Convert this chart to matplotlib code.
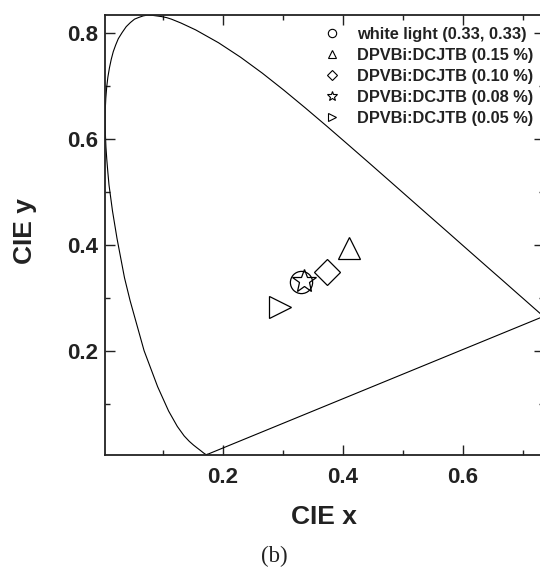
import matplotlib
matplotlib.use("Agg")
import matplotlib.pyplot as plt
from matplotlib.lines import Line2D

plt.rcParams['font.family'] = ['Liberation Sans', 'DejaVu Sans']

# CIE 1931 spectral locus chromaticity coordinates (380-700 nm)
locus_x = [0.1741, 0.1740, 0.1738, 0.1736, 0.1733, 0.1730, 0.1726, 0.1721, 0.1714, 0.1703,
           0.1689, 0.1669, 0.1644, 0.1611, 0.1566, 0.1510, 0.1440, 0.1355, 0.1241, 0.1096,
           0.0913, 0.0687, 0.0454, 0.0360, 0.0235, 0.0160, 0.0102, 0.0082, 0.0065, 0.0051,
           0.0042, 0.0037, 0.0039, 0.0049, 0.0064, 0.0083, 0.0109, 0.0139, 0.0173, 0.0214,
           0.0257, 0.0321, 0.0389, 0.0459, 0.0528, 0.0601, 0.0672, 0.0743, 0.0822, 0.0902,
           0.0983, 0.1064, 0.1142, 0.1301, 0.1547, 0.1929, 0.2296, 0.2658, 0.3016, 0.3373,
           0.3731, 0.4087, 0.4441, 0.4788, 0.5125, 0.5448, 0.5752, 0.6029, 0.6270, 0.6482,
           0.6658, 0.6801, 0.6915, 0.7006, 0.7079, 0.7140, 0.7190, 0.7230, 0.7260, 0.7283,
           0.7300, 0.7311, 0.7320, 0.7327, 0.7334, 0.7340, 0.7344, 0.7346, 0.7347]
locus_y = [0.0050, 0.0050, 0.0049, 0.0049, 0.0048, 0.0048, 0.0048, 0.0048, 0.0051, 0.0058,
           0.0069, 0.0086, 0.0109, 0.0138, 0.0177, 0.0227, 0.0297, 0.0399, 0.0578, 0.0868,
           0.1327, 0.2007, 0.2950, 0.3384, 0.4127, 0.4644, 0.5134, 0.5384, 0.5616, 0.5848,
           0.6084, 0.6316, 0.6548, 0.6772, 0.6985, 0.7166, 0.7341, 0.7502, 0.7648, 0.7776,
           0.7893, 0.8009, 0.8120, 0.8198, 0.8262, 0.8295, 0.8323, 0.8338, 0.8334, 0.8322,
           0.8309, 0.8290, 0.8262, 0.8189, 0.8059, 0.7816, 0.7543, 0.7243, 0.6923, 0.6589,
           0.6245, 0.5896, 0.5547, 0.5202, 0.4866, 0.4544, 0.4242, 0.3965, 0.3725, 0.3514,
           0.3340, 0.3197, 0.3083, 0.2993, 0.2920, 0.2859, 0.2809, 0.2770, 0.2740, 0.2717,
           0.2700, 0.2689, 0.2680, 0.2673, 0.2666, 0.2660, 0.2656, 0.2654, 0.2653]

# Measured CIE coordinates
labels = ['white light (0.33, 0.33)', 'DPVBi:DCJTB (0.15 %)', 'DPVBi:DCJTB (0.10 %)',
          'DPVBi:DCJTB (0.08 %)', 'DPVBi:DCJTB (0.05 %)']
pts_x = [0.33, 0.41, 0.373, 0.336, 0.295]
pts_y = [0.33, 0.395, 0.350, 0.333, 0.284]
markers = ['o', '^', 'D', '*', '>']
msizes = [16, 16, 13, 18, 16]
leg_sizes = [6, 6, 5, 7, 6]

fig = plt.figure(figsize=(5.4, 5.72), dpi=100)
ax = fig.add_axes([0.1943, 0.2054, 0.8122, 0.7682])

ax.plot(locus_x + [locus_x[0]], locus_y + [locus_y[0]], color='black', lw=0.8)

for xv, yv, m, s in zip(pts_x, pts_y, markers, msizes):
    ax.plot([xv], [yv], linestyle='none', marker=m, markersize=s,
            markerfacecolor='none', markeredgecolor='black', markeredgewidth=0.9)

ax.set_xlim(min(locus_x) - 0.0003, max(locus_x))
ax.set_ylim(min(locus_y), max(locus_y))

ax.set_xticks([0.2, 0.4, 0.6])
ax.set_xticks([0.1, 0.3, 0.5, 0.7], minor=True)
ax.set_yticks([0.2, 0.4, 0.6, 0.8])
ax.set_yticks([0.1, 0.3, 0.5, 0.7], minor=True)
ax.set_xticklabels(['0.2', '0.4', '0.6'])
ax.set_yticklabels(['0.2', '0.4', '0.6', '0.8'])

ax.tick_params(which='both', direction='in', top=True, right=True, width=1.0, color='#222222')
ax.tick_params(which='major', length=7)
ax.tick_params(which='minor', length=3.5)
ax.tick_params(axis='x', which='major', pad=9, labelsize=16)
ax.tick_params(axis='y', which='major', pad=5, labelsize=16)
for lab in ax.get_xticklabels() + ax.get_yticklabels():
    lab.set_fontweight('bold')
    lab.set_color('#222222')
for sp in ax.spines.values():
    sp.set_linewidth(1.3)
    sp.set_color('#222222')

ax.set_xlabel('CIE x', fontsize=19, fontweight='bold', color='#222222', labelpad=12)
ax.set_ylabel('CIE y', fontsize=19, fontweight='bold', color='#222222')
ax.yaxis.set_label_coords(-0.155, 0.509)

handles = [Line2D([], [], linestyle='none', marker=m, markersize=s, markerfacecolor='none',
                  markeredgecolor='black', markeredgewidth=0.8)
           for m, s in zip(markers, leg_sizes)]
leg = ax.legend(handles, labels, loc='upper left', frameon=False,
                bbox_to_anchor=(324 / 540, 1 - 27 / 572), bbox_transform=fig.transFigure,
                prop={'weight': 'bold', 'size': 11.8}, handlelength=1.0,
                handletextpad=1.0, labelspacing=0.36, borderaxespad=0, borderpad=0)
for t in leg.get_texts():
    t.set_color('#222222')

fig.text(274 / 540, 1 - 556 / 572, '(b)', ha='center', va='center',
         fontsize=16.5, family='Liberation Serif', color='#222222')

fig.savefig('out.png', dpi=100)
